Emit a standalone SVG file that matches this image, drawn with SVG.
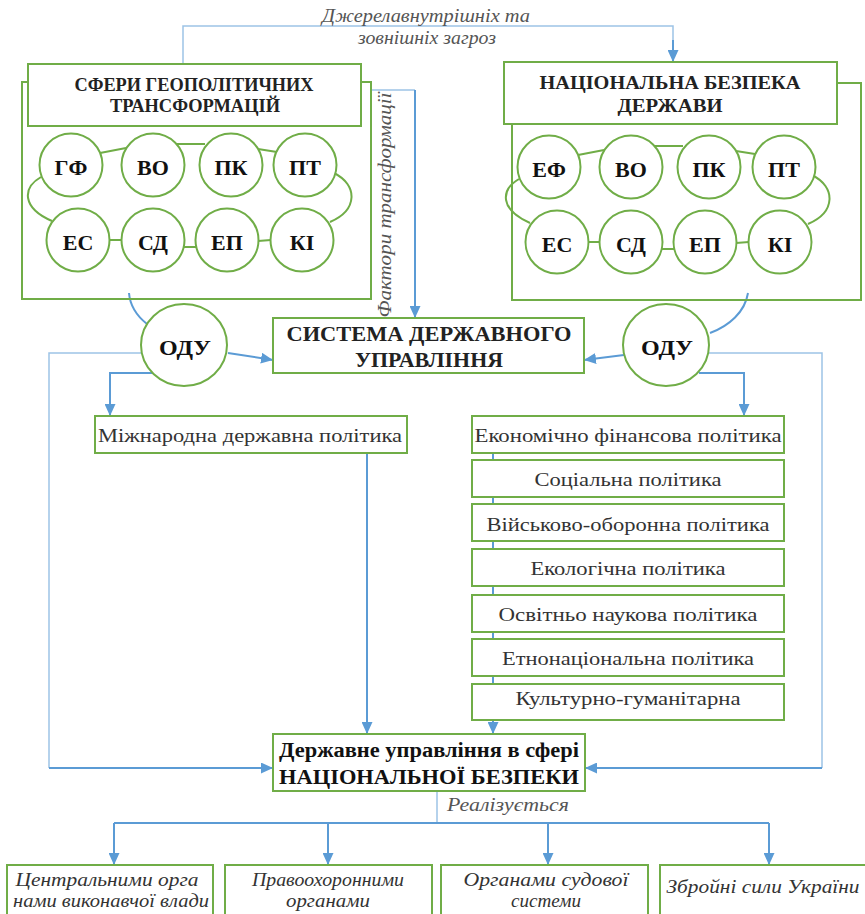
<svg xmlns="http://www.w3.org/2000/svg" width="865" height="914" viewBox="0 0 865 914">
<style>
text{font-family:"Liberation Serif","DejaVu Serif",serif}
.box{fill:#fff;stroke:#70AD47;stroke-width:2}
.frame{fill:none;stroke:#70AD47;stroke-width:2}
.ring{fill:none;stroke:#70AD47;stroke-width:2}
.cir{fill:#fff;stroke:#70AD47;stroke-width:2}
.ct{font-weight:bold;font-size:22px;fill:#111;text-anchor:middle}
.ht{font-weight:bold;font-size:18px;fill:#222;text-anchor:middle}
.st{font-weight:bold;font-size:22px;fill:#222;text-anchor:middle}
.pt{font-size:18px;fill:#333;text-anchor:middle}
.it{font-style:italic;font-size:18px;fill:#555;text-anchor:middle}
.bt{font-style:italic;font-size:19px;fill:#333;text-anchor:middle}
.ln{fill:none;stroke:#5B9BD5;stroke-width:2}
.lt{fill:none;stroke:#9DC3E6;stroke-width:1.5}
</style>
<defs>
<marker id="ah" markerWidth="12" markerHeight="11" refX="12" refY="5.5" orient="auto" markerUnits="userSpaceOnUse"><path d="M0,0 L12,5.5 L0,11 z" fill="#5B9BD5"/></marker>
</defs>

<g id="connectors">
<path class="lt" d="M183,64 V26 H673 V50"/>
<path class="ln" d="M673,40 V62" marker-end="url(#ah)"/>
<path class="lt" d="M371,90 H415"/>
<path class="ln" d="M415,90 V318" marker-end="url(#ah)"/>
<path class="ln" d="M129,293 C130,306 137,316 147,324"/>
<path class="ln" d="M748,293 C745,312 729,326 710,333"/>
<path class="ln" d="M228,353 L273,360" marker-end="url(#ah)"/>
<path class="ln" d="M624,355 L584,360" marker-end="url(#ah)"/>
<path class="ln" d="M157,373 H110 V416" marker-end="url(#ah)"/>
<path class="ln" d="M699,373 H744 V416" marker-end="url(#ah)"/>
<path class="lt" d="M141,353 H49 V768"/>
<path class="ln" d="M49,768 H273" marker-end="url(#ah)"/>
<path class="lt" d="M709,353 H822 V768"/>
<path class="ln" d="M822,768 H585" marker-end="url(#ah)"/>
<path class="ln" d="M367,453 V734" marker-end="url(#ah)"/>
<path class="ln" d="M493,453 V734" marker-end="url(#ah)"/>
<path class="lt" d="M437,791 V823"/>
<path class="ln" d="M114,823 H769"/>
<path class="ln" d="M114,823 V865" marker-end="url(#ah)"/>
<path class="ln" d="M328,823 V865" marker-end="url(#ah)"/>
<path class="ln" d="M548,823 V865" marker-end="url(#ah)"/>
<path class="ln" d="M769,823 V865" marker-end="url(#ah)"/>
</g>

<text class="it" x="426" y="22" textLength="208" lengthAdjust="spacingAndGlyphs">Джерелавнутрішніх та</text>
<text class="it" x="427" y="44" textLength="138" lengthAdjust="spacingAndGlyphs">зовнішніх загроз</text>
<text class="it" transform="translate(391,205) rotate(-90)" x="0" y="0" textLength="225" lengthAdjust="spacingAndGlyphs">Фактори трансформації</text>

<g id="geo-frame">
<rect class="frame" x="22" y="82" width="349" height="217"/>
</g>
<g id="geo-header">
<rect class="box" x="28" y="64" width="333" height="62"/>
<text class="ht" x="194" y="91" textLength="239" lengthAdjust="spacingAndGlyphs">СФЕРИ ГЕОПОЛІТИЧНИХ</text>
<text class="ht" x="195" y="112" textLength="170" lengthAdjust="spacingAndGlyphs">ТРАНСФОРМАЦІЙ</text>
</g>
<g id="geo-ring">
<path class="ring" d="M100,153 L126,148 M177,144 L205,144 M258,149 L277,152 M41,177 C22,188 22,208 52,221 M334,173 C358,185 358,210 330,222 M110,240 L122,240 M184,247 L197,247 M258,241 L271,240"/>
</g>
<g id="geo-gf"><circle class="cir" cx="71" cy="165" r="31.5"/><text class="ct" x="71" y="175">ГФ</text></g>
<g id="geo-vo"><circle class="cir" cx="153" cy="165" r="31.5"/><text class="ct" x="153" y="175">ВО</text></g>
<g id="geo-pk"><circle class="cir" cx="231" cy="165" r="31.5"/><text class="ct" x="231" y="175">ПК</text></g>
<g id="geo-pt"><circle class="cir" cx="305" cy="165" r="31.5"/><text class="ct" x="305" y="175">ПТ</text></g>
<g id="geo-es"><circle class="cir" cx="78" cy="240" r="31.5"/><text class="ct" x="78" y="250">ЕС</text></g>
<g id="geo-sd"><circle class="cir" cx="153" cy="240" r="31.5"/><text class="ct" x="153" y="250">СД</text></g>
<g id="geo-ep"><circle class="cir" cx="227" cy="240" r="31.5"/><text class="ct" x="227" y="250">ЕП</text></g>
<g id="geo-ki"><circle class="cir" cx="302" cy="240" r="31.5"/><text class="ct" x="302" y="250">КІ</text></g>

<g id="ns-frame">
<rect class="frame" x="512" y="83" width="349" height="217"/>
</g>
<g id="ns-header">
<rect class="box" x="504" y="62" width="333" height="62"/>
<text class="ht" x="670" y="89" textLength="261" lengthAdjust="spacingAndGlyphs">НАЦІОНАЛЬНА БЕЗПЕКА</text>
<text class="ht" x="670" y="112" textLength="105" lengthAdjust="spacingAndGlyphs">ДЕРЖАВИ</text>
</g>
<g id="ns-ring" transform="translate(478,2)">
<path class="ring" d="M100,153 L126,148 M177,144 L205,144 M258,149 L277,152 M41,177 C22,188 22,208 52,221 M334,173 C358,185 358,210 330,222 M110,240 L122,240 M184,247 L197,247 M258,241 L271,240"/>
</g>
<g id="ns-ef"><circle class="cir" cx="549" cy="167" r="31.5"/><text class="ct" x="549" y="177">ЕФ</text></g>
<g id="ns-vo"><circle class="cir" cx="631" cy="167" r="31.5"/><text class="ct" x="631" y="177">ВО</text></g>
<g id="ns-pk"><circle class="cir" cx="709" cy="167" r="31.5"/><text class="ct" x="709" y="177">ПК</text></g>
<g id="ns-pt"><circle class="cir" cx="784" cy="167" r="31.5"/><text class="ct" x="784" y="177">ПТ</text></g>
<g id="ns-es"><circle class="cir" cx="557" cy="242" r="31.5"/><text class="ct" x="557" y="252">ЕС</text></g>
<g id="ns-sd"><circle class="cir" cx="631" cy="242" r="31.5"/><text class="ct" x="631" y="252">СД</text></g>
<g id="ns-ep"><circle class="cir" cx="705" cy="242" r="31.5"/><text class="ct" x="705" y="252">ЕП</text></g>
<g id="ns-ki"><circle class="cir" cx="780" cy="242" r="31.5"/><text class="ct" x="780" y="252">КІ</text></g>

<g id="odu-left"><ellipse class="cir" cx="184" cy="345" rx="43" ry="41"/><text class="ct" x="185" y="355" textLength="52" lengthAdjust="spacingAndGlyphs">ОДУ</text></g>
<g id="odu-right"><ellipse class="cir" cx="666" cy="345" rx="43" ry="41"/><text class="ct" x="667" y="355" textLength="52" lengthAdjust="spacingAndGlyphs">ОДУ</text></g>

<g id="system">
<rect class="box" x="273" y="318" width="311" height="55"/>
<text class="st" x="429" y="341" textLength="285" lengthAdjust="spacingAndGlyphs">СИСТЕМА ДЕРЖАВНОГО</text>
<text class="st" x="429" y="367" textLength="148" lengthAdjust="spacingAndGlyphs">УПРАВЛІННЯ</text>
</g>

<g id="pol-intl"><rect class="box" x="95" y="416" width="312" height="37"/><text class="pt" x="250" y="442" textLength="304" lengthAdjust="spacingAndGlyphs">Міжнародна державна політика</text></g>
<g id="pol-econ"><rect class="box" x="472" y="416" width="312" height="37"/><text class="pt" x="628" y="442" textLength="307" lengthAdjust="spacingAndGlyphs">Економічно фінансова політика</text></g>
<g id="pol-soc"><rect class="box" x="472" y="460" width="312" height="37"/><text class="pt" x="628" y="486" textLength="187" lengthAdjust="spacingAndGlyphs">Соціальна політика</text></g>
<g id="pol-mil"><rect class="box" x="472" y="504" width="312" height="37"/><text class="pt" x="628" y="531" textLength="283" lengthAdjust="spacingAndGlyphs">Військово-оборонна політика</text></g>
<g id="pol-eco"><rect class="box" x="472" y="549" width="312" height="37"/><text class="pt" x="628" y="575" textLength="195" lengthAdjust="spacingAndGlyphs">Екологічна політика</text></g>
<g id="pol-edu"><rect class="box" x="472" y="595" width="312" height="37"/><text class="pt" x="628" y="621" textLength="259" lengthAdjust="spacingAndGlyphs">Освітньо наукова політика</text></g>
<g id="pol-eth"><rect class="box" x="472" y="639" width="312" height="37"/><text class="pt" x="628" y="665" textLength="252" lengthAdjust="spacingAndGlyphs">Етнонаціональна політика</text></g>
<g id="pol-cult"><rect class="box" x="472" y="684" width="312" height="36"/><text class="pt" x="628" y="705" textLength="225" lengthAdjust="spacingAndGlyphs">Культурно-гуманітарна</text></g>

<g id="state-mgmt">
<rect class="box" x="273" y="734" width="312" height="57"/>
<text class="st" x="429" y="757" style="font-size:20px;fill:#111" textLength="300" lengthAdjust="spacingAndGlyphs">Державне управління в сфері</text>
<text class="st" x="429" y="784" style="font-size:20px;fill:#111" textLength="300" lengthAdjust="spacingAndGlyphs">НАЦІОНАЛЬНОЇ БЕЗПЕКИ</text>
</g>
<text class="it" x="508" y="811" textLength="122" lengthAdjust="spacingAndGlyphs">Реалізується</text>

<g id="b-central"><rect class="box" x="7" y="865" width="206" height="60"/>
<text class="bt" x="107" y="886" textLength="183" lengthAdjust="spacingAndGlyphs">Центральними орга</text>
<text class="bt" x="111" y="907" textLength="196" lengthAdjust="spacingAndGlyphs">нами виконавчої влади</text></g>
<g id="b-law"><rect class="box" x="225" y="865" width="207" height="60"/>
<text class="bt" x="328" y="886" textLength="152" lengthAdjust="spacingAndGlyphs">Правоохоронними</text>
<text class="bt" x="328" y="907" textLength="84" lengthAdjust="spacingAndGlyphs">органами</text></g>
<g id="b-court"><rect class="box" x="441" y="865" width="207" height="60"/>
<text class="bt" x="546" y="886" textLength="165" lengthAdjust="spacingAndGlyphs">Органами судової</text>
<text class="bt" x="546" y="907" textLength="70" lengthAdjust="spacingAndGlyphs">системи</text></g>
<g id="b-army"><rect class="box" x="660" y="865" width="210" height="60"/>
<text class="bt" x="763" y="893" textLength="193" lengthAdjust="spacingAndGlyphs">Збройні сили України</text></g>
</svg>
